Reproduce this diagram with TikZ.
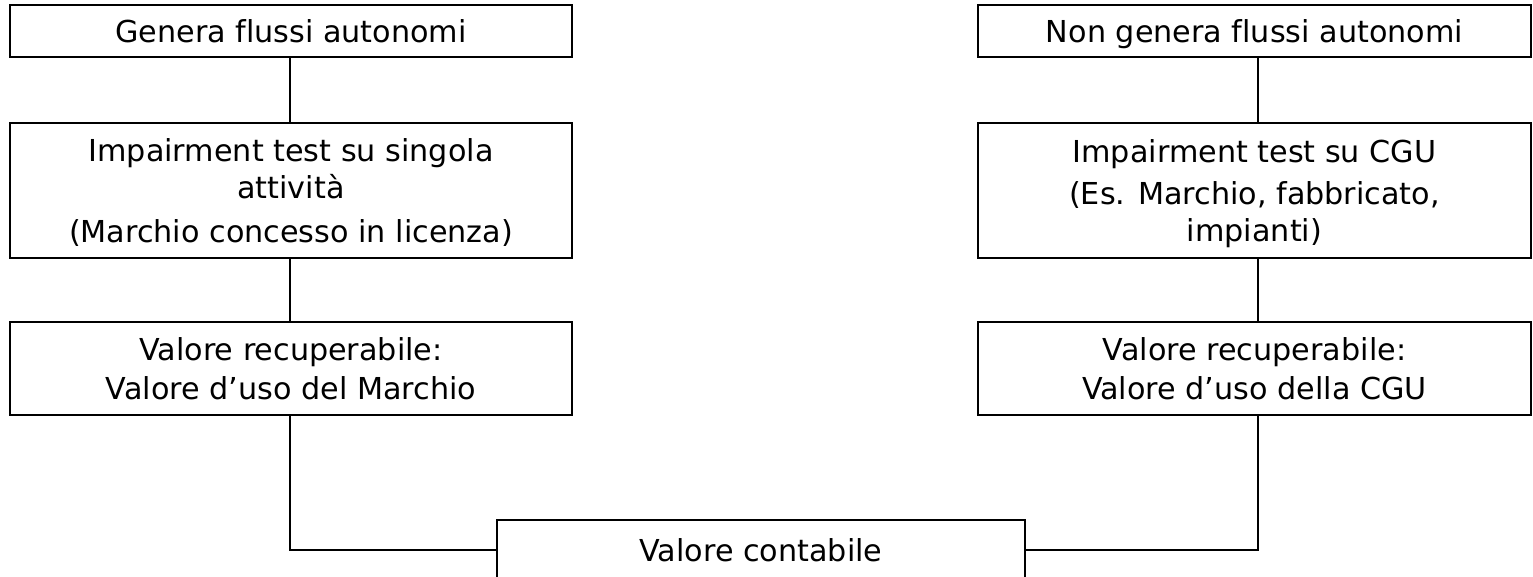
\documentclass[tikz,border=0pt]{standalone}
\usepackage{fontspec}
\setmainfont[Ligatures=CommonOff]{DejaVu Sans}
\begin{document}
\begin{tikzpicture}[x=0.02cm, y=-0.02cm,
	box/.style={draw=black, line width=1.1pt, align=center, inner sep=0pt, text depth=0pt, font=\fontsize{17.2}{20.8}\selectfont},
	wire/.style={draw=black, line width=1.1pt}]
	\useasboundingbox (0,0) rectangle (1533,577);
	\clip (0,0) rectangle (1533,577);
	\node[box, minimum width=11.24cm, minimum height=1.04cm] (genera) at (291,31) {Genera flussi autonomi};
	\node[box, minimum width=11.06cm, minimum height=1.04cm] (nongenera) at (1254.5,31) {Non genera flussi autonomi};
	\node[box, minimum width=11.24cm, minimum height=2.7cm] (testsingola) at (291,190.5) {Impairment test su singola\\attività\\[4.5pt](Marchio concesso in licenza)};
	\node[box, minimum width=11.06cm, minimum height=2.7cm] (testcgu) at (1254.5,190.5) {Impairment test su CGU\\[3pt](Es. Marchio, fabbricato,\\impianti)};
	\node[box, minimum width=11.24cm, minimum height=1.86cm] (recmarchio) at (291,368.5) {Valore recuperabile:\\[1pt]Valore d’uso del Marchio};
	\node[box, minimum width=11.06cm, minimum height=1.86cm] (reccgu) at (1254.5,368.5) {Valore recuperabile:\\[1pt]Valore d’uso della CGU};
	\node[box, minimum width=10.56cm, minimum height=1.2cm] (contabile) at (761,550) {Valore contabile};
	\draw[wire] ([xshift=-0.02cm]genera.south) -- ([xshift=-0.02cm]testsingola.north);
	\draw[wire] ([xshift=-0.02cm]testsingola.south) -- ([xshift=-0.02cm]recmarchio.north);
	\draw[wire] ([xshift=-0.02cm]recmarchio.south) |- (contabile.west);
	\draw[wire] ([xshift=0.07cm]nongenera.south) -- ([xshift=0.07cm]testcgu.north);
	\draw[wire] ([xshift=0.07cm]testcgu.south) -- ([xshift=0.07cm]reccgu.north);
	\draw[wire] ([xshift=0.07cm]reccgu.south) |- (contabile.east);
\end{tikzpicture}
\end{document}
